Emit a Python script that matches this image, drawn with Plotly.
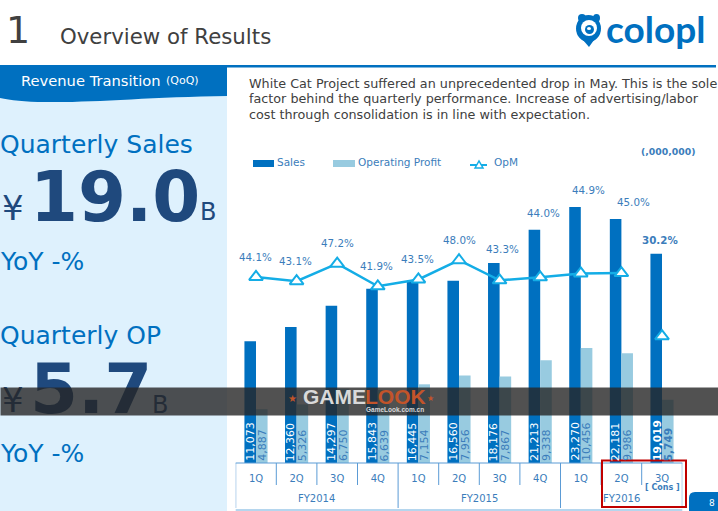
import plotly.graph_objects as go

W, H = 718, 511

quarters = ["1Q", "2Q", "3Q", "4Q", "1Q", "2Q", "3Q", "4Q", "1Q", "2Q", "3Q"]
sales = [11073, 12360, 14297, 15843, 16445, 16560, 18176, 21213, 23270, 22181, 19019]
op_profit = [4887, 5326, 6750, 6639, 7154, 7956, 7867, 9338, 10456, 9986, 5749]
opm = [44.1, 43.1, 47.2, 41.9, 43.5, 48.0, 43.3, 44.0, 44.9, 45.0, 30.2]
fiscal_years = ["FY2014", "FY2015", "FY2016"]
paragraph = [
    "White Cat Project suffered an unprecedented drop in May. This is the sole",
    "factor behind the quarterly performance. Increase of advertising/labor",
    "cost through consolidation is in line with expectation.",
]

FONT = "DejaVu Sans"
BLUE = "#0070C0"
LIGHT = "#98CBE0"
LINE = "#14ADE6"
LABEL = "#3B7DBB"
NAVY = "#1F497D"
GREY = "#404040"

# label offsets from each OpM point, in pixels
label_dx = [-1, -1, 0, -1, -1, 0, 3, 3, 8, 12, -2]
label_dy = [20, 20, 21, 20, 20, 20, 31, 64, 83, 71, 96]

# the last quarter is a forecast: its marker is not joined to the line
x = list(range(len(quarters)))

fig = go.Figure()
fig.add_bar(x=x, y=sales, name="Sales", marker_color=BLUE, marker_line_width=0)
fig.add_bar(x=x, y=op_profit, name="Operating Profit", marker_color=LIGHT, marker_line_width=0)
fig.add_scatter(
    x=x[:-1], y=opm[:-1], name="OpM", yaxis="y2", mode="lines+markers",
    line=dict(color=LINE, width=2.5),
    marker=dict(symbol="triangle-up", size=12, color="white", line=dict(color=LINE, width=2)),
)
fig.add_scatter(
    x=x[-1:], y=opm[-1:], yaxis="y2", mode="markers",
    marker=dict(symbol="triangle-up", size=12, color="white", line=dict(color=LINE, width=2)),
)

shapes = []
annotations = []


def px(v):
    return v / W


def py(v):
    return 1 - v / H


def rect(x0, y0, x1, y1, color, line=None, layer="below", width=0):
    shapes.append(dict(
        type="rect", xref="paper", yref="paper", layer=layer,
        x0=px(x0), x1=px(x1), y0=py(y0), y1=py(y1),
        fillcolor=color, line=dict(color=line or color, width=width),
    ))


def oval(x0, y0, x1, y1, color, layer="above"):
    shapes.append(dict(
        type="circle", xref="paper", yref="paper", layer=layer,
        x0=px(x0), x1=px(x1), y0=py(y0), y1=py(y1),
        fillcolor=color, line=dict(width=0),
    ))


def seg(x0, y0, x1, y1, color="#5B9BD5", width=1):
    shapes.append(dict(
        type="line", xref="paper", yref="paper", layer="above",
        x0=px(x0), x1=px(x1), y0=py(y0), y1=py(y1),
        line=dict(color=color, width=width),
    ))


def label(text, left, mid, size, color, anchor="left", bold=False, family=FONT):
    annotations.append(dict(
        text=f"<b>{text}</b>" if bold else text, xref="paper", yref="paper",
        x=px(left), y=py(mid), xanchor=anchor, yanchor="middle", showarrow=False,
        borderpad=0, font=dict(family=family, size=size, color=color),
    ))


# page furniture
rect(0, 96, 227, H, "#DEF1FD")
rect(0, 65, 716, 67.5, BLUE)
shapes.append(dict(
    type="path", xref="paper", yref="paper", layer="below",
    path=(f"M 0 {py(67)} L {px(227)} {py(67)} L {px(227)} {py(96)} "
          f"C {px(150)} {py(97)} {px(90)} {py(103)} {px(45)} {py(102)} "
          f"C {px(25)} {py(102)} {px(10)} {py(100)} 0 {py(98)} Z"),
    fillcolor=BLUE, line=dict(width=0),
))

label("1", 5, 30, 38, GREY)
label("Overview of Results", 59, 36, 21.3, GREY)
label("Revenue Transition", 20, 80, 14.7, "white")
label("(QoQ)", 165, 81, 11, "white")

for i, line in enumerate(paragraph):
    label(line, 248, 83 + i * 15.5, 12.75, GREY)

# left panel figures
label("Quarterly Sales", -1, 144, 25, BLUE)
label("¥", 1, 208, 34, NAVY)
label("19.0", 29, 197, 69, NAVY, bold=True)
label("B", 199, 212, 24, NAVY)
label("YoY -%", -1, 261, 25, BLUE)
label("Quarterly OP", -1, 335, 25, BLUE)
label("¥", 1, 400, 34, NAVY)
label("5.7", 29, 389, 69, NAVY, bold=True)
label("B", 151, 405, 24, NAVY)
label("YoY -%", -1, 453, 25, BLUE)

# logo
shapes.append(dict(
    type="path", xref="paper", yref="paper", layer="above",
    path=f"M {px(583)} {py(40)} L {px(589)} {py(47)} L {px(594)} {py(40)} Z",
    fillcolor=BLUE, line=dict(width=0),
))
oval(576, 15, 601, 42, BLUE)
oval(578, 14, 586, 22, BLUE)
oval(593, 14, 600, 22, BLUE)
oval(581, 20, 597, 36, "white")
oval(585, 25, 594, 34, BLUE)
oval(587, 27, 591, 30, "white")
label("colopl", 605, 29, 37, BLUE, bold=True, family="Lato")

# legend, with the wide swatches the source uses
rect(253, 160, 274, 167, BLUE, layer="above")
label("Sales", 276, 162, 10.5, LABEL)
rect(333, 160, 355, 167, LIGHT, layer="above")
label("Operating Profit", 357, 162, 10.5, LABEL)
seg(470, 165, 487, 165, LINE, 2)
shapes.append(dict(
    type="path", xref="paper", yref="paper", layer="above",
    path=f"M {px(475)} {py(168)} L {px(479)} {py(161)} L {px(483)} {py(168)} Z",
    fillcolor="white", line=dict(color=LINE, width=1.5),
))
label("OpM", 493, 162, 10.5, LABEL)
label("(,000,000)", 640, 151, 9.3, LABEL, bold=True)

# category table under the bars
for i in range(len(x) + 1):
    shapes.append(dict(
        type="line", xref="x", yref="paper", layer="above", x0=i - 0.5, x1=i - 0.5,
        y0=py(508 if i in (0, 4, 8, 11) else 485), y1=py(463),
        line=dict(color="#5B9BD5", width=1),
    ))
seg(235.7, 463, 682.3, 463)
seg(235.7, 510, 682.3, 510, "#9DC9E8", 1.5)
for name, first, last in zip(fiscal_years, (0, 4, 8), (3, 7, 10)):
    annotations.append(dict(
        text=name, xref="x", yref="paper", x=(first + last) / 2, y=py(498), yanchor="middle",
        showarrow=False, borderpad=0, font=dict(family=FONT, size=10, color=LABEL),
    ))
annotations.append(dict(
    text="<b>[ Cons ]</b>", xref="x", yref="paper", x=x[-1], y=py(487), yanchor="middle",
    showarrow=False, borderpad=0, font=dict(family=FONT, size=8, color=LABEL),
))
rect(602, 460.5, 686, 507, "rgba(0,0,0,0)", "#C00000", "above", 2)

# bar value labels
for i, (s, p) in enumerate(zip(sales, op_profit)):
    heavy = i == len(x) - 1
    for value, dx, color in ((s, -5.7, "white"), (p, 5.7, LABEL)):
        text = f"{value:,}"
        annotations.append(dict(
            text=f"<b>{text}</b>" if heavy else text, x=i, y=0, xref="x", yref="y",
            xshift=dx, yshift=1, yanchor="bottom", textangle=-90, showarrow=False,
            borderpad=0, font=dict(family=FONT, size=10.5 if heavy else 11, color=color),
        ))

# OpM value labels
for i, v in enumerate(opm):
    text = f"{v:.1f}%"
    annotations.append(dict(
        text=f"<b>{text}</b>" if i == len(x) - 1 else text, x=i, y=v, xref="x", yref="y2",
        xshift=label_dx[i], yshift=label_dy[i], showarrow=False, borderpad=0,
        font=dict(family=FONT, size=10.3, color=LABEL),
    ))

# watermark band goes last so it darkens the text beneath it
annotations.append(dict(
    text=" ", xref="paper", yref="paper", x=0, y=py(387), xanchor="left", yanchor="top",
    width=W, height=27, showarrow=False, borderpad=0, bgcolor="rgba(38,38,38,0.8)",
))
label("<b>GAME</b>", 302, 396, 21, "#D9D9D9", family="Liberation Sans")
label("<b>LOOK</b>", 364, 396, 21, "#C2542A", family="Liberation Sans")
label("★", 287, 398, 10, "#C2542A")
label("★", 426, 398, 8, "#C2542A")
label("<b>GameLook.com.cn</b>", 365, 409, 6.5, "#D9D9D9", family="Liberation Sans")

# page number tab
shapes.append(dict(
    type="path", xref="paper", yref="paper", layer="above",
    path=f"M {px(689)} {py(511)} L {px(689)} {py(498)} Q {px(689)} {py(492)} {px(695)} {py(492)} L {px(718)} {py(492)} L {px(718)} {py(511)} Z",
    fillcolor=BLUE, line=dict(width=0),
))
label("8", 708, 503, 9, "white")

fig.update_layout(
    width=W, height=H, margin=dict(l=0, r=0, t=0, b=0), autosize=False,
    paper_bgcolor="white", plot_bgcolor="rgba(0,0,0,0)", showlegend=False,
    barmode="group", bargap=0.43, bargroupgap=0,
    font=dict(family=FONT, color=LABEL),
    xaxis=dict(
        domain=[235.7 / W, 682.3 / W], range=[-0.5, 10.5], tickmode="array",
        tickvals=x, ticktext=quarters, ticks="", showgrid=False, zeroline=False,
        showline=False, ticklabelstandoff=8, tickfont=dict(size=10, color=LABEL),
    ),
    yaxis=dict(domain=[py(463), py(177)], range=[0, 26000], visible=False),
    yaxis2=dict(
        domain=[py(463), py(177)], range=[0.5, 67.5], overlaying="y",
        side="right", visible=False,
    ),
    shapes=shapes, annotations=annotations,
)

fig.write_html(
    "out.html",
    config=dict(displayModeBar=False),
    post_script="document.body.style.margin='0';",
)
